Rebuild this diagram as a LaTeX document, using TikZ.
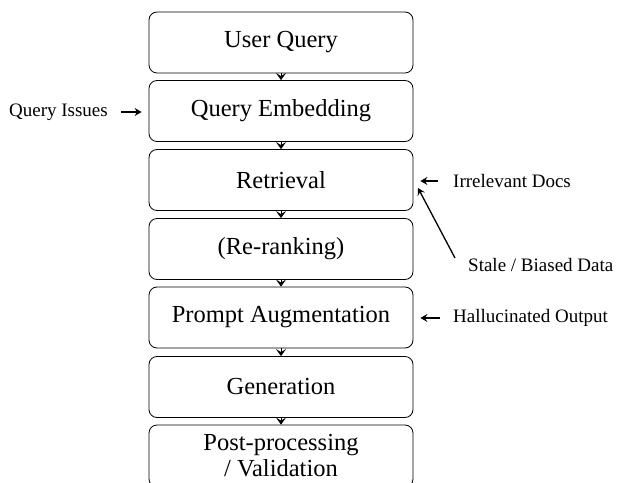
\documentclass[tikz,border=0pt]{standalone}
\usepackage{fontspec}
\setmainfont{Liberation Serif}
\usetikzlibrary{arrows.meta}
\begin{document}
\begin{tikzpicture}[x=1pt,y=1pt,
  stage/.style={draw, line width=0.8pt, rounded corners=8pt, minimum width=264pt,
    minimum height=61pt, align=center, inner sep=0pt,
    font=\fontsize{24.5}{26}\selectfont},
  note/.style={inner sep=0pt, font=\fontsize{19}{22}\selectfont},
  flow/.style={line width=0.8pt, -{Stealth[length=7pt,width=10pt,inset=3pt]}},
  issue/.style={line width=1.3pt, -{Stealth[length=7pt,width=8pt,inset=2.5pt]}}]
\useasboundingbox (0,0) rectangle (620,482);
\clip (0,0) rectangle (620,482);

% pipeline stages
\node[stage] (b1) at (281,439.5) {User Query};
\node[stage] (b2) at (281,371) {Query Embedding};
\node[stage] (b3) at (281,302) {Retrieval};
\node[stage] (b4) at (281,233) {(Re-ranking)};
\node[stage] (b5) at (281,164.5) {Prompt Augmentation};
\node[stage] (b6) at (281,95) {Generation};
\node[stage, minimum height=62pt] (b7) at (281,26) {Post-processing\\/ Validation};

\foreach \a/\b in {b1/b2,b2/b3,b3/b4,b4/b5,b5/b6,b6/b7}
  \draw[flow] (\a.south) -- (\b.north);

% failure points
\node[note, anchor=east] (qi) at (108,370) {Query Issues};
\node[note, anchor=west] (id) at (453,301) {Irrelevant Docs};
\node[note, anchor=west] (sd) at (468,217) {Stale / Biased Data};
\node[note, anchor=west] (ho) at (453,164) {Hallucinated Output};

\draw[issue, shorten <=13pt, shorten >=7pt] (qi.east) -- (b2.west |- qi.east);
\draw[issue, shorten <=15pt, shorten >=7pt] (id.west) -- (b3.east |- id.west);
\draw[issue, shorten <=13pt, shorten >=7pt] (ho.west) -- (b5.east |- ho.west);
\coordinate (sdtail) at (455,224);
\coordinate (sdtip) at (418,294);
\draw[issue] (sdtail) -- (sdtip);
\end{tikzpicture}
\end{document}
